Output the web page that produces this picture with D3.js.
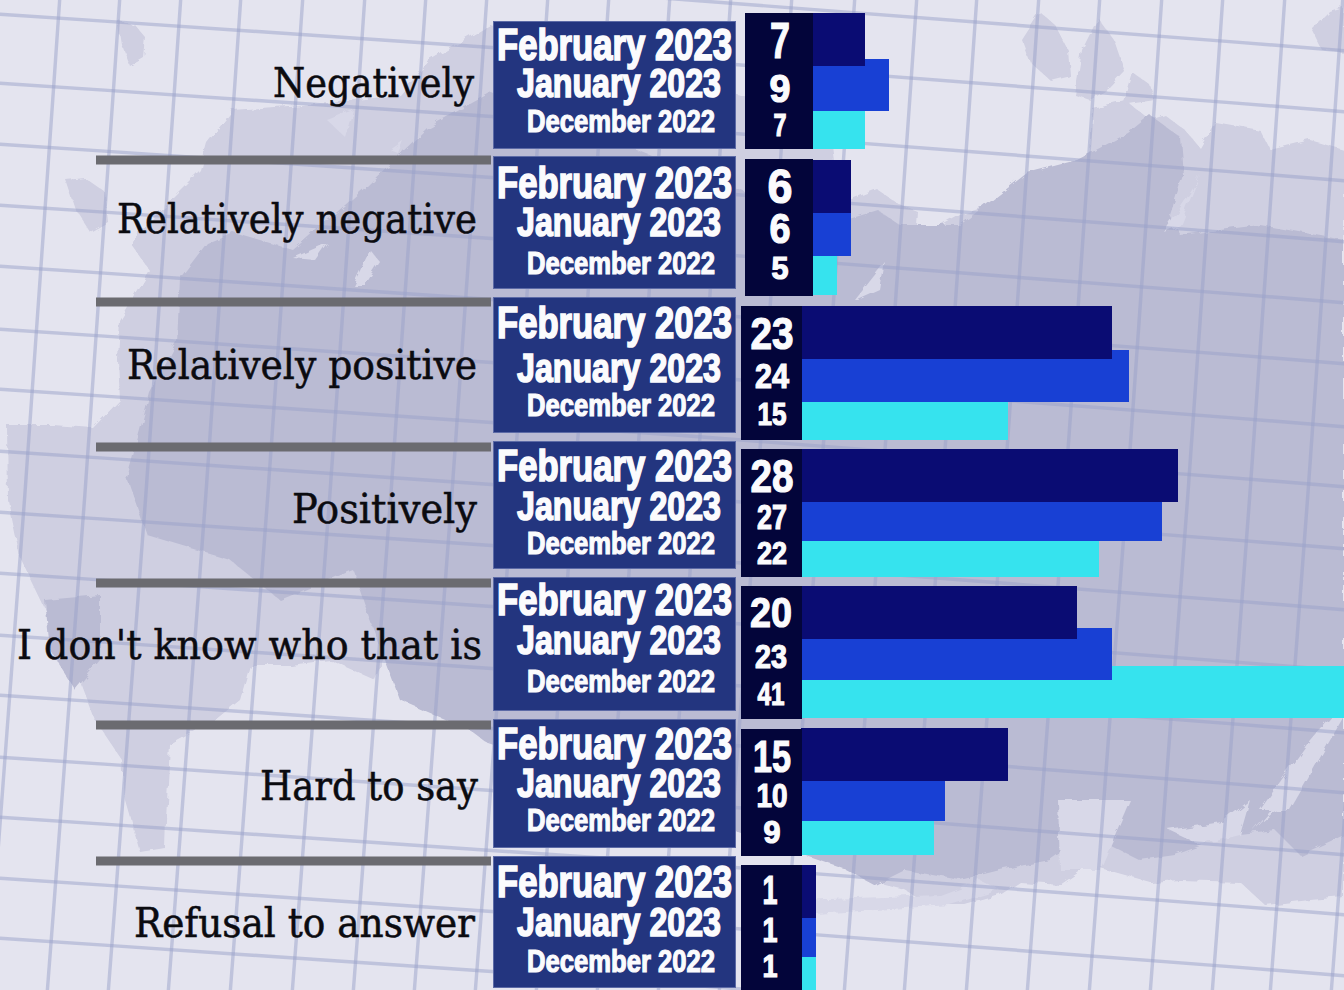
<!DOCTYPE html>
<html>
<head>
<meta charset="utf-8">
<script src="https://cdn.jsdelivr.net/npm/d3@7"></script>
<style>
html,body{margin:0;padding:0;background:#e4e4ef;overflow:hidden}
svg{display:block}
</style>
</head>
<body>
<svg id="c" width="1344" height="990"></svg>
<script>
// ---- data ----
const categories = ["Negatively","Relatively negative","Relatively positive","Positively","I don't know who that is","Hard to say","Refusal to answer"];
const months = ["December 2022","January 2023","February 2023"];
const december2022 = [7,5,15,22,41,9,1];
const january2023  = [9,6,24,27,23,10,1];
const february2023 = [7,6,23,28,20,15,1];

// ---- layout (not data) ----
const W = 1344, H = 990;
const boxTop    = [13,159,306,449,586,729,865];
const boxBottom = [149,296,440,577,719,856,996];
const boxLeft   = [745,745,741,741,741,741,741];
const boxRight  = [813,813,802,802,802,802,802];
const febTop = [13,160,306,449,586,728,865], febBottom = [66,213,359,502,639,781,918];
const janTop = [59,213,350,502,628,781,918], janBottom = [111,256,402,541,680,821,957];
const decTop = [111,256,402,541,666,821,957], decBottom = [149,295,440,577,718,855,996];
const panelTop = [21,156,297,441,577,719,856], panelBottom = [148,288,432,568,710,847,987];
const labelLeft = [273,117,127,292,17,260,134], labelRight = [474,477,477,477,482,478,475], labelBase = [97,233,379,523,659,800,937];
const sepY = [160,302,447,583,725,861];
const febBase = [60,198,338,481,615,759,897], janBase = [97,236,382,520,654,797,936], decBase = [132,274,416,554,692,831,972];
// numeric labels: baseline, cap height, ink width
const vBase = [[136,102,58],[279,243,203],[425,388,349],[564,529,492],[705,668,627],[843,807,772],[977,942,904]];
const vCap  = [[23,28,36],[22,30,35],[23,25,32],[22,25,33],[23,24,31],[22,24,32],[23,25,29]];
const vWide = [[11,19,18],[15,19,23],[27,32,41],[28,28,41],[25,30,40],[15,29,36],[13,13,13]];
const vX    = [780,780,772,772,771,772,770];

const colors = {feb:"#0a0c73", jan:"#1840d4", dec:"#36e3ee", box:"#03053a", panel:"#23357f", panelEdge:"#5c6aa6", sep:"#6b6b70"};

// The picture's bars do not share one linear scale: the top two groups are drawn on their own scale.
const xUpper = d3.scaleLinear().domain([5,6,7,9]).range([837,851,865,889]);
const xLower = d3.scaleLinear().domain([0,1,9,10,15,20,22,23,24,27,28,41]).range([802,816,934,945,1008,1077,1099,1112,1129,1162,1178,1370]);
const xFor = i => i < 2 ? xUpper : xLower;

// ---- background decoration ----
const landOuter = [[7,425],[53,425],[93,428],[120,400],[118,360],[120,321],[150,271],[130,243],[165,205],[200,170],[207,143],[233,110],[330,103],[400,95],[430,60],[490,25],[830,120],[840,205],[878,190],[900,205],[918,212],[916,240],[960,215],[990,205],[1030,180],[1050,172],[1090,160],[1092,108],[1125,100],[1150,120],[1165,115],[1185,130],[1200,148],[1215,122],[1260,130],[1270,150],[1310,140],[1344,150],[1344,897],[1310,900],[1265,905],[1240,882],[1180,880],[1150,882],[1100,868],[1085,868],[1060,885],[1020,882],[1000,895],[965,905],[930,905],[905,890],[885,885],[850,858],[500,745],[470,705],[430,672],[385,655],[375,680],[330,660],[290,665],[250,665],[240,700],[215,720],[170,745],[166,820],[165,848],[140,852],[125,800],[122,760],[95,720],[80,680],[60,640],[20,557],[8,500]];
const landDark = [[147,535],[127,478],[150,393],[177,343],[180,278],[207,243],[233,232],[293,250],[367,186],[427,128],[490,93],[830,225],[878,210],[900,225],[960,225],[1027,173],[1077,160],[1128,133],[1150,115],[1180,137],[1183,175],[1170,215],[1180,235],[1260,225],[1344,240],[1344,835],[1300,855],[1275,830],[1230,835],[1175,855],[1140,860],[1100,840],[1078,840],[1050,860],[1000,870],[960,880],[905,870],[875,885],[843,868],[490,745],[470,730],[400,700],[370,620],[353,570],[280,600],[230,560]];
const darkBlobs = [[[45,600],[100,595],[100,660],[75,690],[50,650]]];
const islands = [[[118,20],[135,25],[146,38],[144,58],[130,66],[122,45]],[[66,180],[85,178],[105,192],[108,222],[90,232],[76,210]],[[1022,40],[1040,12],[1055,25],[1068,50],[1070,75],[1050,80],[1030,62]],[[1075,95],[1082,50],[1098,18],[1114,40],[1125,72],[1110,88],[1090,100]],[[1122,105],[1132,72],[1150,85],[1155,100]],[[1312,30],[1330,12],[1344,8],[1344,52],[1322,50]]];
const lakes = [[[1332,716],[1318,760],[1280,800],[1250,835],[1262,822],[1300,790],[1322,750]],[[1168,830],[1222,822],[1250,800],[1240,835],[1200,845]],[[1310,740],[1344,700],[1344,716],[1290,810],[1260,810]],[[1058,800],[1130,800],[1100,870],[1060,870]],[[855,300],[885,262],[880,290],[858,300]],[[1164,232],[1192,190],[1200,175],[1180,225]],[[327,120],[353,110],[345,137]],[[390,150],[403,141],[398,153]],[[293,258],[327,243],[315,260]],[[353,285],[370,250],[380,262],[365,285]],[[800,900],[940,895],[980,880],[1000,890],[950,905],[800,915]]];
const gridTopX = [-2,60,120,181,241,303,365,426,487,548,609,670,731,792,855,917,977,1039,1100,1162,1223,1285,1343,1404,1465];
const gridLeftY = [-108,-47,14,83,144,205,266,329,389,451,512,573,635,695,757,817,878,938,999];
const gridLeanX = -73, gridLeanY = 0.073, gridBow = 5;

const svg = d3.select("#c");
const defs = svg.append("defs");
const f = defs.append("filter").attr("id","rough").attr("x","-5%").attr("y","-5%").attr("width","110%").attr("height","110%");
f.append("feTurbulence").attr("type","fractalNoise").attr("baseFrequency",0.08).attr("numOctaves",3).attr("seed",4).attr("result","n");
f.append("feDisplacementMap").attr("in","SourceGraphic").attr("in2","n").attr("scale",7);

svg.append("rect").attr("width",W).attr("height",H).attr("fill","#e4e4ef");

const closed = d3.line().curve(d3.curveLinearClosed);
const mapG = svg.append("g").attr("filter","url(#rough)");
mapG.selectAll("path.out").data([landOuter].concat(islands)).join("path").attr("class","out").attr("d",closed).attr("fill","#cfcfe1");
mapG.selectAll("path.dark").data([landDark].concat(darkBlobs)).join("path").attr("class","dark").attr("d",closed).attr("fill","#babbd3");
mapG.selectAll("path.lake").data(lakes).join("path").attr("class","lake").attr("d",closed).attr("fill","#d8d8e8");

const bowed = d3.line().curve(d3.curveBasis);
const gridG = svg.append("g").attr("fill","none").attr("stroke","#9aa1c9").attr("stroke-opacity",0.5).attr("stroke-width",3.4);
gridG.selectAll("path.v").data(gridTopX).join("path").attr("class","v")
  .attr("d",x => bowed([[x,-5],[x+gridLeanX/2+gridBow*0.4,H/2],[x+gridLeanX,H+5]]));
gridG.selectAll("path.h").data(gridLeftY).join("path").attr("class","h")
  .attr("d",y => bowed([[-5,y],[W/2,y+W/2*gridLeanY-gridBow],[W+5,y+W*gridLeanY]]));

// ---- separators ----
svg.selectAll("rect.sep").data(sepY).join("rect").attr("class","sep")
  .attr("x",96).attr("width",395).attr("y",d=>d-4.5).attr("height",9).attr("fill",colors.sep);

// ---- category labels ----
svg.selectAll("text.cat").data(categories).join("text").attr("class","cat")
  .attr("x",(d,i)=>labelLeft[i]).attr("y",(d,i)=>labelBase[i])
  .attr("textLength",(d,i)=>labelRight[i]-labelLeft[i]).attr("lengthAdjust","spacingAndGlyphs")
  .attr("font-family","'DejaVu Serif Condensed','DejaVu Serif','Liberation Serif',serif")
  .attr("font-size",41).attr("fill","#0b0b10").attr("stroke","#0b0b10").attr("stroke-width",0.5).text(d=>d);

// ---- month panels ----
svg.selectAll("rect.panel").data(categories).join("rect").attr("class","panel")
  .attr("x",493.5).attr("width",242)
  .attr("y",(d,i)=>panelTop[i]+0.5).attr("height",(d,i)=>panelBottom[i]-panelTop[i])
  .attr("fill",colors.panel).attr("stroke",colors.panelEdge).attr("stroke-width",1);

const monthRows = [
  {name:months[2], base:febBase, size:45, left:497, wide:235},
  {name:months[1], base:janBase, size:41, left:517, wide:204},
  {name:months[0], base:decBase, size:32, left:527, wide:188}
];
monthRows.forEach(r=>{
  svg.selectAll(null).data(categories).join("text")
    .attr("x",r.left).attr("y",(d,i)=>r.base[i])
    .attr("textLength",r.wide).attr("lengthAdjust","spacingAndGlyphs")
    .attr("font-family","'Liberation Sans Narrow','Liberation Sans',Arial,sans-serif")
    .attr("font-weight",700).attr("font-size",r.size)
    .attr("fill","#fbfbfd").attr("stroke","#fbfbfd").attr("stroke-width",r.size/26)
    .text(r.name);
});

// ---- bars: December first, February on top ----
const barRows = [
  {values:december2022, top:decTop, bottom:decBottom, fill:colors.dec},
  {values:january2023,  top:janTop, bottom:janBottom, fill:colors.jan},
  {values:february2023, top:febTop, bottom:febBottom, fill:colors.feb}
];
barRows.forEach(r=>{
  svg.selectAll(null).data(r.values).join("rect")
    .attr("x",(d,i)=>boxRight[i]-1)
    .attr("width",(d,i)=>xFor(i)(d)-boxRight[i]+1)
    .attr("y",(d,i)=>r.top[i]).attr("height",(d,i)=>r.bottom[i]-r.top[i])
    .attr("fill",r.fill);
});

// ---- value boxes ----
svg.selectAll("rect.box").data(categories).join("rect").attr("class","box")
  .attr("x",(d,i)=>boxLeft[i]).attr("width",(d,i)=>boxRight[i]-boxLeft[i])
  .attr("y",(d,i)=>boxTop[i]).attr("height",(d,i)=>boxBottom[i]-boxTop[i])
  .attr("fill",colors.box);

// ---- value labels ----
[december2022,january2023,february2023].forEach((vals,m)=>{
  svg.selectAll(null).data(vals).join("text")
    .attr("x",(d,i)=>vX[i]).attr("y",(d,i)=>vBase[i][m])
    .attr("text-anchor","middle")
    .attr("textLength",(d,i)=>vWide[i][m]+2).attr("lengthAdjust","spacingAndGlyphs")
    .attr("font-family","'Liberation Sans Narrow','Liberation Sans',Arial,sans-serif")
    .attr("font-weight",700).attr("font-size",(d,i)=>vCap[i][m]/0.72)
    .attr("fill","#fbfbfd").attr("stroke","#fbfbfd").attr("stroke-width",1.2)
    .text(d=>d);
});
</script>
</body>
</html>
